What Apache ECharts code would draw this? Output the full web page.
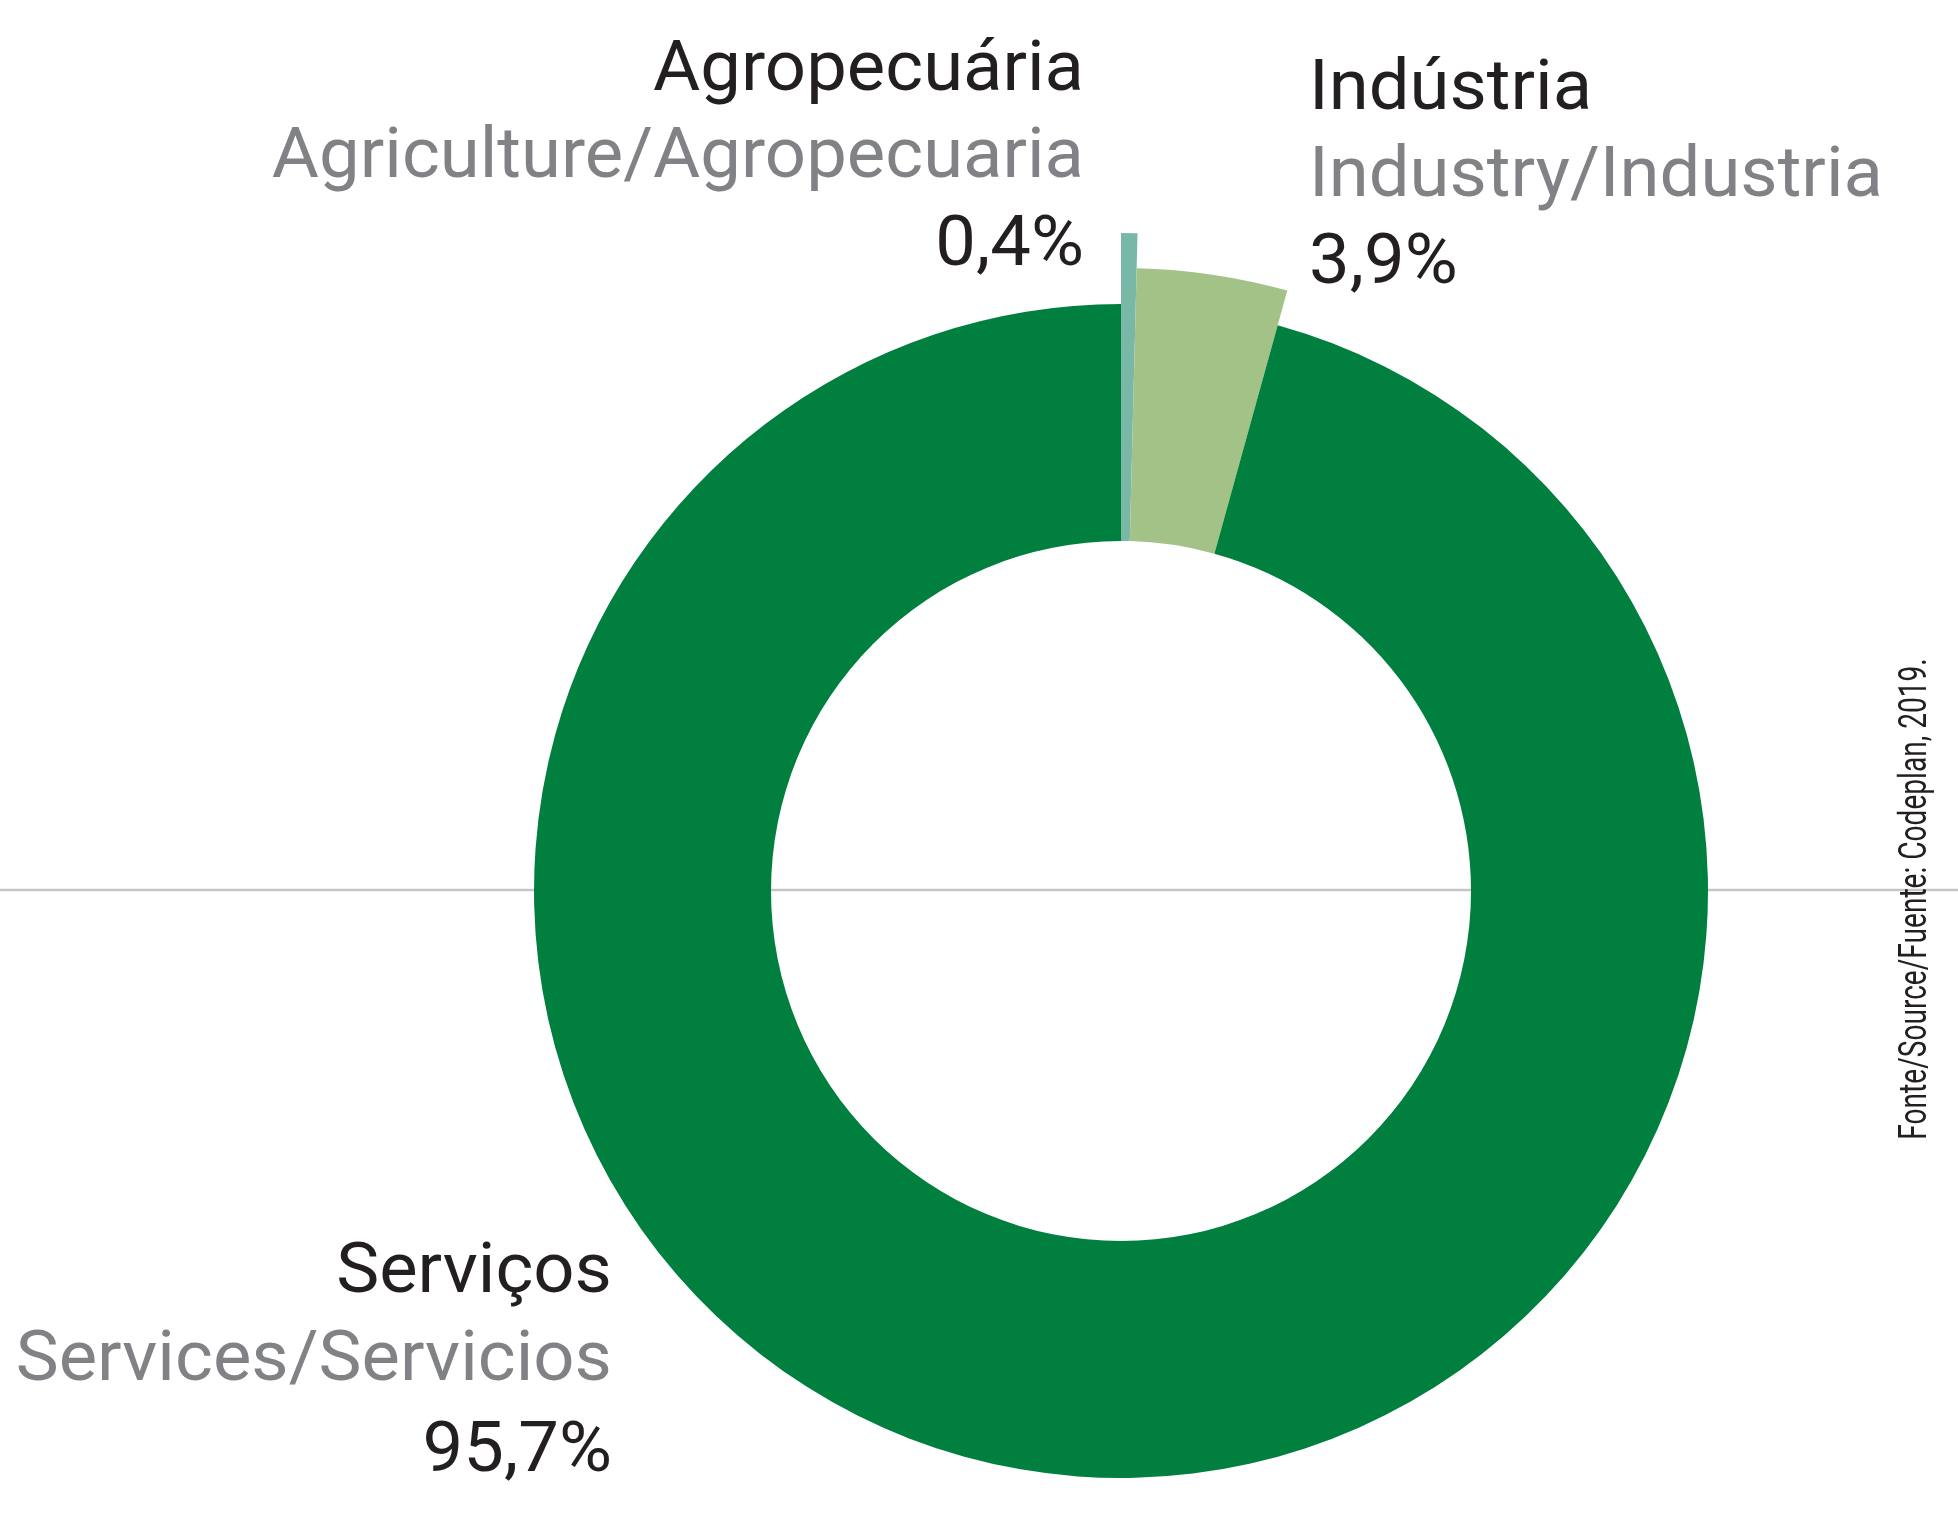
<!DOCTYPE html>
<html>
<head>
<meta charset="utf-8">
<script src="https://cdn.jsdelivr.net/npm/echarts@6/dist/echarts.min.js"></script>
<style>
html,body{margin:0;padding:0;background:#fff;}
#chart{width:1958px;height:1529px;}
</style>
</head>
<body>
<div id="chart"></div>
<script>
// Data
const namesPt = ['Agropecuária', 'Indústria', 'Serviços'];
const namesEnEs = ['Agriculture/Agropecuaria', 'Industry/Industria', 'Services/Servicios'];
const values = [0.4, 3.9, 95.7];
const valueLabels = ['0,4%', '3,9%', '95,7%'];
const colors = ['#79b8a6', '#a3c287', '#007f3f'];
const sourceText = 'Fonte/Source/Fuente: Codeplan, 2019.';

const chart = echarts.init(document.getElementById('chart'), null, {renderer: 'canvas'});

const center = [1121, 891];
const outerRadii = [658, 623, 587];
const innerRadius = 350;

// one pie series per slice, each drawing only its own slice
const series = values.map((v, k) => ({
  type: 'pie',
  center: center,
  radius: [innerRadius, outerRadii[k]],
  startAngle: 90,
  clockwise: true,
  avoidLabelOverlap: false,
  label: {show: false},
  labelLine: {show: false},
  emphasis: {disabled: true},
  silent: true,
  animation: false,
  z: 5,
  data: values.map((vv, j) => ({
    name: namesPt[j],
    value: vv,
    itemStyle: {color: j === k ? colors[j] : 'rgba(0,0,0,0)', borderWidth: 0}
  }))
}));

const font = 'Roboto, "Noto Sans", sans-serif';
const fs = 71;
const mid = 18; // baseline offset from middle
function lineText(x, baseY, text, color, align) {
  return {
    type: 'text', x: x, y: baseY - mid, z: 10, scaleX: 1.02,
    style: {text: text, fill: color, font: fs + 'px ' + font, align: align, verticalAlign: 'middle'}
  };
}
const black = '#231f20', gray = '#808285';
const blocks = [
  {x: 1084, align: 'right', base: [90, 177, 265]},
  {x: 1309, align: 'left', base: [109, 196, 283]},
  {x: 612, align: 'right', base: [1292, 1380, 1471]}
];
const graphics = [
  {type: 'line', z: 0, shape: {x1: 0, y1: 890, x2: 1958, y2: 890}, style: {stroke: '#c5c5c7', lineWidth: 2.5}}
];
blocks.forEach((b, i) => {
  graphics.push(lineText(b.x, b.base[0], namesPt[i], black, b.align));
  graphics.push(lineText(b.x, b.base[1], namesEnEs[i], gray, b.align));
  graphics.push(lineText(b.x, b.base[2], valueLabels[i], black, b.align));
});
graphics.push({
  type: 'text', x: 1916, y: 899, rotation: Math.PI / 2, scaleX: 0.72, z: 10,
  style: {text: sourceText, fill: black, font: '39px ' + font, align: 'center', verticalAlign: 'middle'}
});

chart.setOption({
  backgroundColor: '#ffffff',
  animation: false,
  series: series,
  graphic: {elements: graphics}
});
</script>
</body>
</html>
